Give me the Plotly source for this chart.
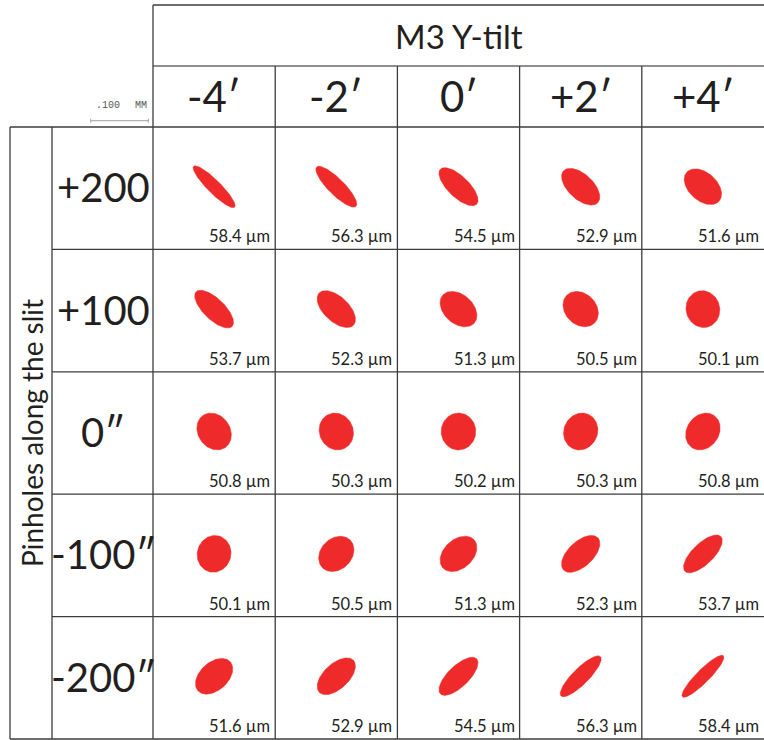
import numpy as np
import plotly.graph_objects as go

# ---------------- data ----------------
title_top = "M3 Y-tilt"
title_left = "Pinholes along the slit"
col_labels = ["-4′", "-2′", "0′", "+2′", "+4′"]          # M3 Y-tilt (arcmin)
row_labels = ["+200", "+100", "0″", "-100″", "-200″"]    # pinhole position along slit

# spot size labels (µm)
spot_um = [
    [58.4, 56.3, 54.5, 52.9, 51.6],
    [53.7, 52.3, 51.3, 50.5, 50.1],
    [50.8, 50.3, 50.2, 50.3, 50.8],
    [50.1, 50.5, 51.3, 52.3, 53.7],
    [51.6, 52.9, 54.5, 56.3, 58.4],
]
# spot ellipse semi-axes (µm) and tilt (deg, counter-clockwise)
semi_major_um = [
    [50.3, 48.3, 43.8, 40.6, 37.7],
    [43.4, 40.8, 36.5, 34.0, 32.1],
    [33.9, 32.6, 32.1, 32.6, 33.9],
    [32.1, 34.0, 36.5, 40.8, 43.4],
    [37.7, 40.6, 43.8, 48.3, 50.3],
]
semi_minor_um = [
    [11.3, 13.9, 18.2, 21.7, 24.3],
    [18.2, 21.7, 25.2, 26.9, 29.2],
    [27.8, 29.2, 30.0, 29.2, 27.8],
    [29.2, 26.9, 25.2, 21.7, 18.2],
    [24.3, 21.7, 18.2, 13.9, 11.3],
]
tilt_deg = [
    [-45, -45, -44, -43, -42],
    [-44, -43, -42, -45, -75],
    [-55, -65, 90, 65, 55],
    [75, 45, 42, 43, 44],
    [42, 43, 44, 45, 45],
]
scale_bar_um = 100  # ".100 MM"

# ---------------- layout geometry (pixels) ----------------
W, H = 764, 740
grid_left = 153.0
col_w = 122.2
head_top = 5.0
head_mid = 66.0
rows_top = 127.0
row_h = 122.4
outer_left = 10.0
label_left = 52.0
bar_x0, bar_x1, bar_y = 90.7, 148.3, 120.7
px_per_um = (bar_x1 - bar_x0) / scale_bar_um

RED = "#ee2a2a"
INK = "#231f20"
LINE = "#3c3c3c"
FONT = "Lato"

ncol = len(col_labels)
nrow = len(row_labels)
grid_right = grid_left + ncol * col_w
rows_bottom = rows_top + nrow * row_h

fig = go.Figure()

# spots
t = np.linspace(0, 2 * np.pi, 121)
for r in range(nrow):
    for c in range(ncol):
        cx = grid_left + (c + 0.5) * col_w
        cy = rows_top + (r + 0.5) * row_h - 1.5
        a = semi_major_um[r][c] * px_per_um
        b = semi_minor_um[r][c] * px_per_um
        th = np.deg2rad(tilt_deg[r][c])
        xs = cx + a * np.cos(th) * np.cos(t) - b * np.sin(th) * np.sin(t)
        ys = cy - (a * np.sin(th) * np.cos(t) + b * np.cos(th) * np.sin(t))
        fig.add_trace(go.Scatter(x=xs, y=ys, mode="lines", fill="toself",
                                 fillcolor=RED, line=dict(color=RED, width=0.5),
                                 hoverinfo="skip", showlegend=False))

shapes = []
def hline(y, x0, x1, color=LINE, w=1.3):
    shapes.append(dict(type="line", x0=x0, x1=x1, y0=y, y1=y, xref="x", yref="y",
                       line=dict(color=color, width=w)))
def vline(x, y0, y1, color=LINE, w=1.3):
    shapes.append(dict(type="line", x0=x, x1=x, y0=y0, y1=y1, xref="x", yref="y",
                       line=dict(color=color, width=w)))

# header box
hline(head_top, grid_left, grid_right)
hline(head_mid, grid_left, grid_right, color="#6a6a6a")
vline(grid_left, head_top, rows_bottom)
for c in range(1, ncol):
    vline(grid_left + c * col_w, head_mid, rows_bottom)
# row lines
hline(rows_top, outer_left, grid_right)
for r in range(1, nrow):
    hline(rows_top + r * row_h, label_left, grid_right)
hline(rows_bottom, outer_left, grid_right)
vline(outer_left, rows_top, rows_bottom)
vline(label_left, rows_top, rows_bottom)
# scale bar
shapes.append(dict(type="line", x0=bar_x0, x1=bar_x1, y0=bar_y, y1=bar_y,
                   line=dict(color="#a0a0a0", width=1)))
for xb in (bar_x0, bar_x1):
    shapes.append(dict(type="line", x0=xb, x1=xb, y0=bar_y - 2, y1=bar_y + 2,
                       line=dict(color="#a0a0a0", width=1)))

ann = []
ann.append(dict(x=(grid_left + grid_right) / 2, y=(head_top + head_mid) / 2,
                text=title_top, showarrow=False, xanchor="center", yanchor="middle",
                font=dict(family=FONT, size=33, color=INK)))
for c, lab in enumerate(col_labels):
    ann.append(dict(x=grid_left + (c + 0.5) * col_w, y=(head_mid + rows_top) / 2 - 1,
                    text=lab, showarrow=False, xanchor="center", yanchor="middle",
                    font=dict(family=FONT, size=42, color=INK)))
for r, lab in enumerate(row_labels):
    ann.append(dict(x=(label_left + grid_left) / 2 + 0.5, y=rows_top + (r + 0.5) * row_h - 1,
                    text=lab, showarrow=False, xanchor="center", yanchor="middle",
                    font=dict(family=FONT, size=40, color=INK)))
ann.append(dict(x=(outer_left + label_left) / 2 + 1, y=(rows_top + rows_bottom) / 2,
                text=title_left, textangle=-90, showarrow=False,
                xanchor="center", yanchor="middle",
                font=dict(family=FONT, size=28, color=INK)))
for r in range(nrow):
    for c in range(ncol):
        ann.append(dict(x=grid_left + (c + 1) * col_w - 3, y=rows_top + (r + 1) * row_h - 1,
                        text=f"{spot_um[r][c]:.1f} µm", showarrow=False,
                        xanchor="right", yanchor="bottom",
                        font=dict(family=FONT, size=16.5, color=INK)))
ann.append(dict(x=bar_x0 + 3, y=bar_y - 8, text=f".{scale_bar_um:03d}", showarrow=False,
                xanchor="left", yanchor="bottom",
                font=dict(family="Liberation Mono", size=10, color="#555555")))
ann.append(dict(x=bar_x1 + 1, y=bar_y - 8, text="MM", showarrow=False,
                xanchor="right", yanchor="bottom",
                font=dict(family="Liberation Mono", size=10, color="#555555")))

fig.update_layout(
    width=W, height=H, margin=dict(l=0, r=0, t=0, b=0),
    paper_bgcolor="white", plot_bgcolor="white",
    xaxis=dict(range=[0, W], visible=False, fixedrange=True),
    yaxis=dict(range=[H, 0], visible=False, fixedrange=True),
    shapes=shapes, annotations=ann, showlegend=False,
)
fig.write_html("out.html", config={"displayModeBar": False},
               post_script="document.body.style.margin='0';document.body.style.overflow='hidden';")
